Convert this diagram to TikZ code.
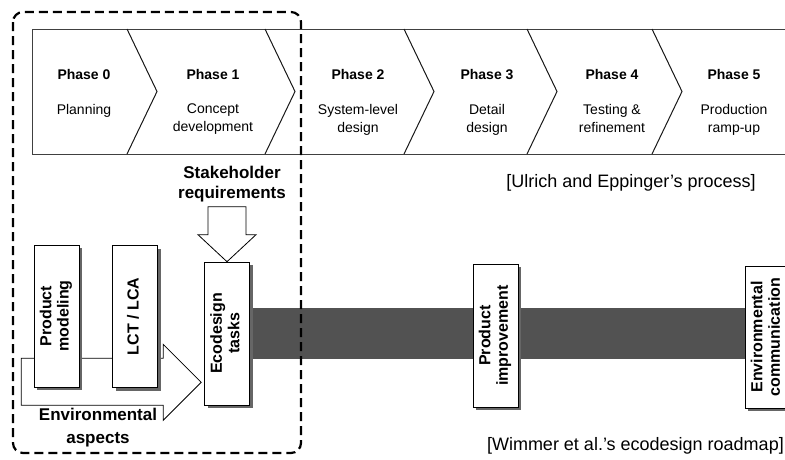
\documentclass[tikz,border=0pt]{standalone}
\usepackage{fontspec}
\setmainfont{Liberation Sans}
\usepackage{graphicx}
\usetikzlibrary{calc, shadows, backgrounds}
\newcommand{\vlabel}[1]{\rotatebox{90}{\begin{tabular}{@{}c@{}}#1\end{tabular}}}
\tikzset{
  phasetitle/.style = {font=\fontsize{14}{18}\selectfont\bfseries,
                       anchor=north, inner sep=0pt},
  phasedesc/.style  = {font=\fontsize{14}{18}\selectfont,
                       anchor=north, inner sep=0pt, align=center},
  bandline/.style   = {line width=0.8pt, black!75},      % frame of the phase band
  chev/.style       = {line width=1pt, black!90},
  taskbox/.style    = {draw, fill=white, line width=0.6pt, inner sep=0pt,
                       minimum width=45pt, minimum height=142pt,
                       font=\fontsize{16}{17.5}\selectfont\bfseries,
                       general shadow={fill=black!60, shadow xshift=3pt,
                                       shadow yshift=-3pt}},
  blockarrow/.style = {draw, fill=white, line width=0.8pt, line join=miter},
  roadmap/.style    = {line width=51pt, black!68},        % dark road
  grouping/.style   = {line width=2.2pt, dash pattern=on 9pt off 5pt,
                       rounded corners=10pt},
  boldlabel/.style  = {font=\fontsize{17}{19.5}\selectfont\bfseries,
                       align=center, inner sep=0pt},
  source/.style     = {font=\fontsize{18}{22}\selectfont,
                       anchor=east, inner sep=0pt}
}

\begin{document}
\begin{tikzpicture}[x=1pt, y=-1pt]
  \useasboundingbox (0,0) rectangle (785,459);
  \clip (0,0) rectangle (785,459);

  % Ulrich and Eppinger phases
  \draw[bandline] (785,29) -- (32,29) -- (32,154) -- (785,154);
  \foreach \cx in {127,265,404,527,652}
    \draw[chev] (\cx,29) -- (\cx+30,91.5) -- (\cx,154);
  \foreach \i/\cx/\what in {0/84/Planning, 1/213/{Concept\\development},
      2/358/{System-level\\design}, 3/487/{Detail\\design},
      4/612/{Testing \&\\refinement}, 5/734/{Production\\ramp-up}} {
    \node[phasetitle] (ph\i) at (\cx,69) {Phase \i};
    \node[phasedesc] (desc\i) at (\cx,104) {\what};
  }
  \node[source] (ulrich) at (756,183) {[Ulrich and Eppinger's process]};

  % ecodesign roadmap
  \node[taskbox] (pm) at (56.5,316) {\vlabel{Product\\modeling}};
  \node[taskbox] (lca) at (135,316.5) {\vlabel{LCT / LCA}};
  \node[taskbox, minimum height=143pt] (eco) at (227,333.5) {\vlabel{Ecodesign\\tasks}};
  \node[taskbox, minimum height=143pt] (pi) at (495.5,335.5) {\vlabel{Product\\improvement}};
  \node[taskbox] (envc) at (767.5,337) {\vlabel{Environmental\\communication}};

  \node[boldlabel] (stake) at (232,184) {Stakeholder\\requirements};
  \draw[blockarrow] (eco.north) -- ++(-29,-27) -- ++(10,0) -- ++(0,-28)
    -- ++(38,0) -- ++(0,28) -- ++(10,0) -- cycle;

  \begin{pgfonlayer}{background}
    \draw[roadmap] (eco.center) -- (eco.center -| envc.center);
    \coordinate (envtip) at ($(eco.south west)+(-3,-23)$);
    \draw[blockarrow] (envtip) -- ++(-38,-38) -- ++(0,14) -- ++(-142,0)
      -- ++(0,47) -- ++(142,0) -- ++(0,15) -- cycle;
  \end{pgfonlayer}
  \node[boldlabel, font=\fontsize{17}{23}\selectfont\bfseries] (envasp)
    at (98,428) {Environmental\\aspects};

  \node[source] (wimmer) at (784,446) {[Wimmer et al.'s ecodesign roadmap]};

  % phase 0 and 1 grouped with the early ecodesign steps
  \draw[grouping] (13,12) rectangle (301,453);
\end{tikzpicture}
\end{document}
